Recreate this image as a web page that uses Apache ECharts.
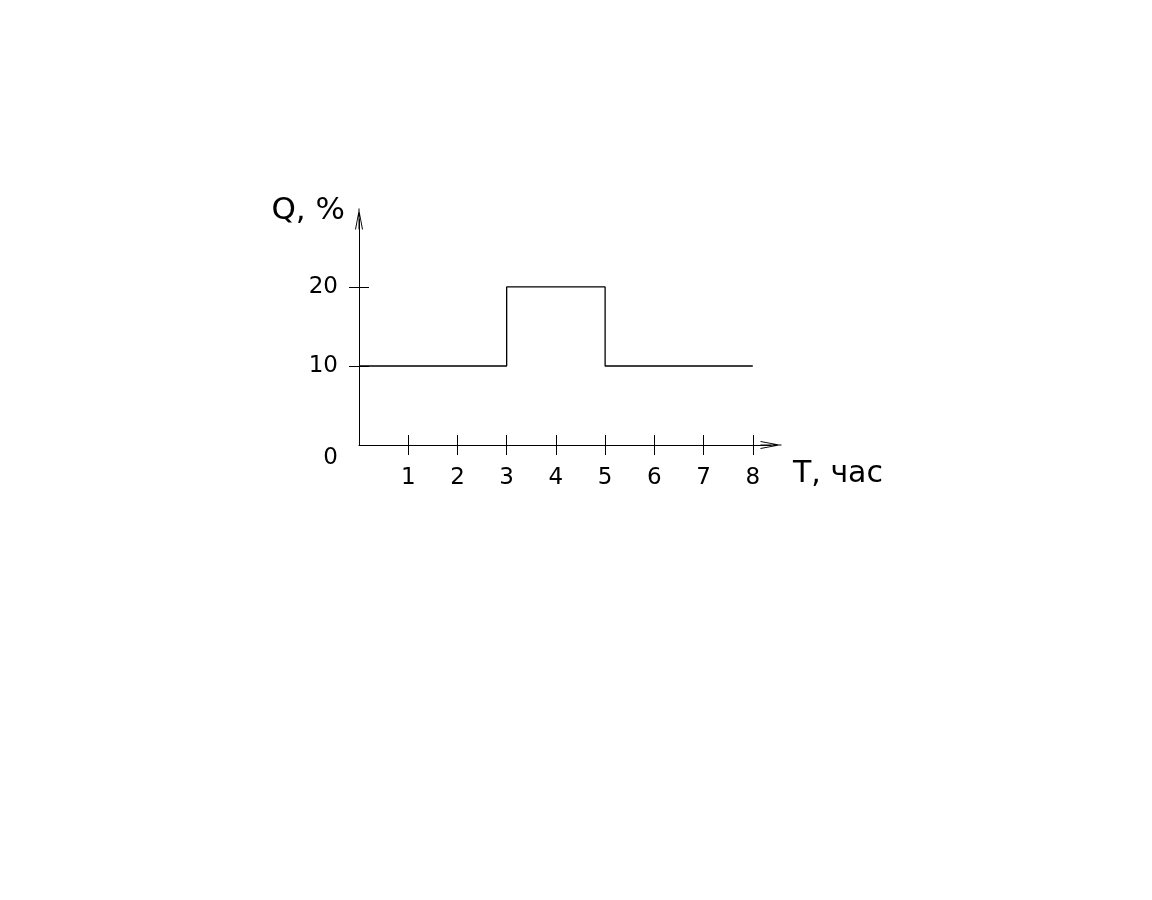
<!DOCTYPE html>
<html>
<head>
<meta charset="utf-8">
<script src="https://cdn.jsdelivr.net/npm/echarts@6/dist/echarts.min.js"></script>
<style>html,body{margin:0;padding:0;background:#fff}#c{width:1152px;height:900px}</style>
</head>
<body>
<div id="c"></div>
<script>
// Data
const hours = [0, 3, 5, 8];          // step breakpoints, T (hours)
const load = [10, 20, 10, 10];       // Q (%) from each breakpoint
const xTickValues = [1, 2, 3, 4, 5, 6, 7, 8];
const yTickValues = [10, 20];
const yLabelValues = [0, 10, 20];
const xName = 'T, час';
const yName = 'Q, %';

const FONT = 'DejaVu Sans';
const arrow = 'path://M3.5,0 L4.5,0 L4.5,21 L3.5,21 Z M4,0 L8,21 L7,21 L4,4.5 L1,21 L0,21 Z';

const chart = echarts.init(document.getElementById('c'), null, {renderer: 'canvas'});
const X_MAX = 8.37, Y_MAX = 28.6;

const baseX = {
  type: 'value', min: 0, max: X_MAX, position: 'bottom', splitLine: {show: false}
};
const baseY = {
  type: 'value', min: 0, max: Y_MAX, position: 'left', splitLine: {show: false}
};

chart.setOption({
  backgroundColor: '#fff',
  animation: false,
  grid: {left: 359, top: 219, width: 412, height: 226},
  xAxis: [
    Object.assign({}, baseX, {
      axisLine: {show: true, lineStyle: {color: '#000', width: 1}, symbol: ['none', arrow], symbolSize: [8, 21]},
      axisTick: {show: true, inside: false, length: 10, lineStyle: {color: '#000'}, customValues: xTickValues},
      axisLabel: {show: true, margin: 22, color: '#000', fontFamily: FONT, fontSize: 23, customValues: xTickValues},
      name: '{n|' + xName + '}', nameLocation: 'end', nameGap: 22,
      nameTextStyle: {
        align: 'left', verticalAlign: 'middle',
        rich: {n: {color: '#000', fontFamily: FONT, fontSize: 30, padding: [58, 0, 0, 0]}}
      }
    }),
    Object.assign({}, baseX, {
      axisLine: {show: false},
      axisTick: {show: true, inside: true, length: 10, lineStyle: {color: '#000'}, customValues: xTickValues},
      axisLabel: {show: false}
    })
  ],
  yAxis: [
    Object.assign({}, baseY, {
      axisLine: {show: true, lineStyle: {color: '#000', width: 1}, symbol: ['none', arrow], symbolSize: [8, 21]},
      axisTick: {show: true, inside: false, length: 10, lineStyle: {color: '#000'}, customValues: yTickValues},
      axisLabel: {
        show: true, margin: 21, color: '#000', fontFamily: FONT, fontSize: 23, customValues: yLabelValues,
        formatter: v => v === 0 ? '{o|0}' : String(v),
        rich: {o: {fontFamily: FONT, fontSize: 23, color: '#000', padding: [26, 0, 0, 0]}}
      },
      name: '{n|' + yName + '}', nameLocation: 'end', nameGap: 8,
      nameTextStyle: {
        align: 'right', verticalAlign: 'middle',
        rich: {n: {color: '#000', fontFamily: FONT, fontSize: 31, padding: [0, 14, 0, 0]}}
      }
    }),
    Object.assign({}, baseY, {
      axisLine: {show: false},
      axisTick: {show: true, inside: true, length: 10, lineStyle: {color: '#000'}, customValues: yTickValues},
      axisLabel: {show: false}
    })
  ],
  series: [{
    type: 'line',
    step: 'end',
    xAxisIndex: 0, yAxisIndex: 0,
    data: hours.map((h, i) => [h, load[i]]),
    symbol: 'none',
    lineStyle: {color: '#000', width: 1.3},
    silent: true
  }]
});
</script>
</body>
</html>
